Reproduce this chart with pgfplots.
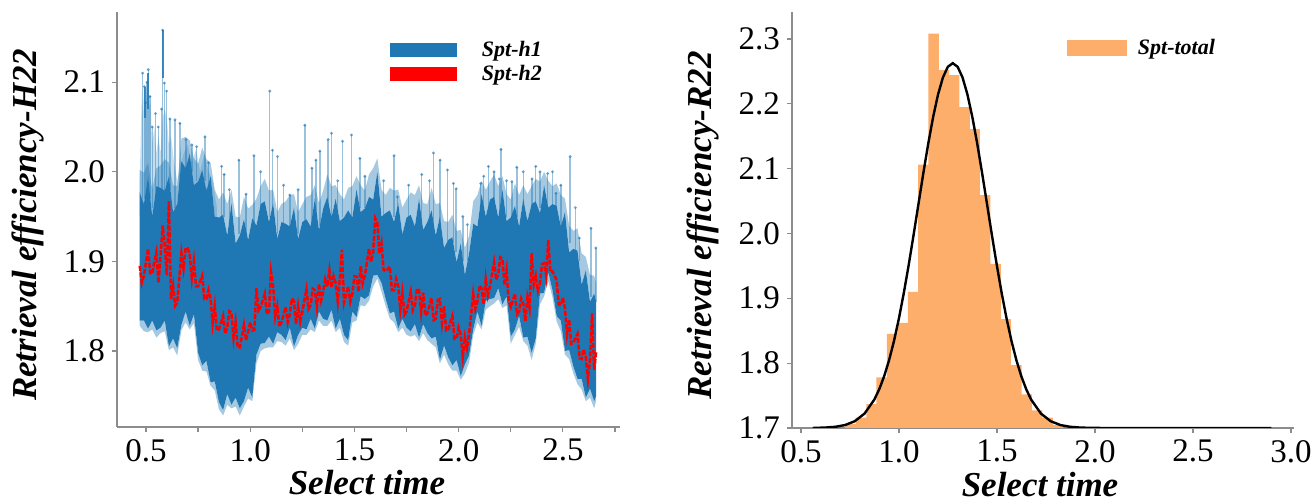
\documentclass[border=0pt]{standalone}
\usepackage{pgfplots}
\pgfplotsset{compat=1.18}
\usepackage{pgfplotstable}
\usepgfplotslibrary{fillbetween}
\usepackage{fontspec}
\setmainfont{Liberation Serif}
\definecolor{c1}{HTML}{1F77B4}
\definecolor{hor}{HTML}{FDAE6B}
\definecolor{spine}{HTML}{8C8C8C}

\pgfplotstableread{
x lo hi ll hh
0.47 1.834 1.977 1.828 2.002
0.49 1.834 1.964 1.822 1.999
0.51 1.825 1.995 1.821 2.010
0.53 1.834 1.950 1.824 1.980
0.55 1.823 1.984 1.815 2.004
0.57 1.826 1.982 1.820 2.007
0.59 1.834 1.979 1.822 2.014
0.61 1.805 1.995 1.801 2.010
0.63 1.814 1.955 1.804 1.985
0.65 1.803 1.964 1.795 1.984
0.67 1.829 2.012 1.823 2.037
0.69 1.844 2.004 1.832 2.039
0.71 1.828 2.020 1.824 2.035
0.73 1.841 1.985 1.831 2.015
0.75 1.798 1.989 1.790 2.009
0.77 1.784 2.002 1.778 2.027
0.79 1.789 1.979 1.777 2.014
0.81 1.765 1.995 1.761 2.010
0.83 1.766 1.950 1.756 1.980
0.85 1.743 1.949 1.735 1.969
0.87 1.734 1.952 1.728 1.977
0.89 1.752 1.929 1.740 1.964
0.91 1.740 1.965 1.736 1.980
0.93 1.748 1.920 1.738 1.950
0.95 1.736 1.929 1.728 1.949
0.97 1.744 1.947 1.738 1.972
0.99 1.759 1.924 1.747 1.959
1.01 1.748 1.948 1.744 1.963
1.03 1.796 1.940 1.786 1.970
1.05 1.808 1.964 1.800 1.984
1.07 1.809 1.967 1.803 1.992
1.09 1.816 1.944 1.804 1.979
1.11 1.808 1.965 1.804 1.980
1.13 1.821 1.925 1.811 1.955
1.15 1.818 1.944 1.810 1.964
1.17 1.812 1.942 1.806 1.967
1.19 1.826 1.939 1.814 1.974
1.21 1.805 1.960 1.801 1.975
1.23 1.818 1.925 1.808 1.955
1.25 1.826 1.944 1.818 1.964
1.27 1.824 1.947 1.818 1.972
1.29 1.836 1.939 1.824 1.974
1.31 1.825 1.970 1.821 1.985
1.33 1.844 1.935 1.834 1.965
1.35 1.836 1.959 1.828 1.979
1.37 1.834 1.972 1.828 1.997
1.39 1.846 1.949 1.834 1.984
1.41 1.825 1.970 1.821 1.985
1.43 1.836 1.945 1.826 1.975
1.45 1.818 1.949 1.810 1.969
1.47 1.812 1.957 1.806 1.982
1.49 1.844 1.949 1.832 1.984
1.51 1.838 1.980 1.834 1.995
1.53 1.861 1.955 1.851 1.985
1.55 1.858 1.959 1.850 1.979
1.57 1.862 1.972 1.856 1.997
1.59 1.884 1.969 1.872 2.004
1.61 1.885 2.000 1.881 2.015
1.63 1.876 1.950 1.866 1.980
1.65 1.858 1.954 1.850 1.974
1.67 1.842 1.957 1.836 1.982
1.69 1.844 1.944 1.832 1.979
1.71 1.825 1.965 1.821 1.980
1.73 1.836 1.930 1.826 1.960
1.75 1.826 1.949 1.818 1.969
1.77 1.822 1.952 1.816 1.977
1.79 1.830 1.939 1.818 1.974
1.81 1.815 1.970 1.811 1.985
1.83 1.830 1.935 1.820 1.965
1.85 1.820 1.944 1.812 1.964
1.87 1.814 1.957 1.808 1.982
1.89 1.816 1.929 1.804 1.964
1.91 1.790 1.950 1.786 1.965
1.93 1.806 1.915 1.796 1.945
1.95 1.793 1.924 1.785 1.944
1.97 1.784 1.927 1.778 1.952
1.99 1.790 1.899 1.778 1.934
2.01 1.772 1.920 1.768 1.935
2.03 1.785 1.885 1.775 1.915
2.05 1.795 1.909 1.787 1.929
2.07 1.824 1.942 1.818 1.967
2.09 1.844 1.939 1.832 1.974
2.11 1.828 1.975 1.824 1.990
2.13 1.856 1.950 1.846 1.980
2.15 1.858 1.969 1.850 1.989
2.17 1.859 1.972 1.853 1.997
2.19 1.870 1.949 1.858 1.984
2.21 1.852 1.980 1.848 1.995
2.23 1.861 1.945 1.851 1.975
2.25 1.816 1.949 1.808 1.969
2.27 1.824 1.962 1.818 1.987
2.29 1.839 1.939 1.827 1.974
2.31 1.815 1.970 1.811 1.985
2.33 1.816 1.945 1.806 1.975
2.35 1.798 1.964 1.790 1.984
2.37 1.814 1.967 1.808 1.992
2.39 1.864 1.954 1.852 1.989
2.41 1.865 1.985 1.861 2.000
2.43 1.888 1.960 1.878 1.990
2.45 1.868 1.964 1.860 1.984
2.47 1.839 1.962 1.833 1.987
2.49 1.834 1.939 1.822 1.974
2.51 1.800 1.955 1.796 1.970
2.53 1.801 1.910 1.791 1.940
2.55 1.783 1.914 1.775 1.934
2.57 1.769 1.912 1.763 1.937
2.59 1.769 1.874 1.757 1.909
2.61 1.748 1.890 1.744 1.905
2.63 1.758 1.855 1.748 1.885
2.65 1.744 1.864 1.736 1.884
2.66 1.750 1.855 1.745 1.875
}\band

\pgfplotstableread{
x b p
0.484 1.970 2.110
0.492 1.970 2.095
0.498 1.970 2.077
0.505 1.975 2.100
0.511 1.980 2.114
0.519 1.970 2.084
0.530 1.960 2.050
0.546 1.970 2.065
0.559 1.980 2.050
0.575 1.980 2.070
0.580 1.980 2.158
0.588 1.980 2.099
0.599 1.980 2.090
0.615 1.980 2.059
0.639 1.960 2.058
0.663 1.980 2.054
0.692 2.000 2.036
0.720 2.000 2.030
0.743 1.990 2.028
0.783 1.990 2.039
0.800 1.980 2.010
0.863 1.950 2.006
0.875 1.950 1.997
0.900 1.940 1.980
0.946 1.930 2.013
0.980 1.930 1.975
1.018 1.940 2.018
1.050 1.950 2.000
1.094 1.950 2.090
1.107 1.950 2.024
1.131 1.930 2.017
1.160 1.940 1.985
1.190 1.940 1.974
1.230 1.930 1.980
1.262 1.940 2.052
1.296 1.940 2.004
1.315 1.950 2.013
1.334 1.940 2.023
1.374 1.960 2.036
1.390 1.950 2.043
1.420 1.950 1.990
1.443 1.950 2.034
1.486 1.950 2.041
1.526 1.960 2.015
1.550 1.960 1.995
1.640 1.950 1.990
1.690 1.950 2.018
1.706 1.950 1.972
1.760 1.945 1.985
1.823 1.940 1.997
1.860 1.940 1.990
1.879 1.940 2.021
1.911 1.930 2.013
1.946 1.920 2.002
1.975 1.920 1.987
1.988 1.910 1.981
2.020 1.900 1.950
2.042 1.900 1.941
2.106 1.950 1.987
2.120 1.950 1.995
2.143 1.960 2.006
2.170 1.960 2.000
2.195 1.950 1.992
2.203 1.960 2.025
2.230 1.950 1.990
2.255 1.950 1.989
2.279 1.950 2.005
2.310 1.950 2.000
2.352 1.960 1.992
2.370 1.960 2.006
2.390 1.960 2.000
2.427 1.960 1.998
2.450 1.960 2.000
2.467 1.950 1.976
2.490 1.940 1.985
2.535 1.920 2.017
2.560 1.910 1.960
2.579 1.900 1.926
2.635 1.860 1.937
2.658 1.855 1.915
}\spikes

\pgfplotsset{
  myax/.style={
    scale only axis,
    axis x line=bottom, axis y line=left,
    axis line style={-, spine, line width=0.6pt},
    tick style={spine, line width=0.6pt},
    tick align=outside,
    major tick length=2.5pt, minor tick length=2.5pt,
    tick label style={font=\fontsize{16.5}{18}\selectfont},
    /pgf/number format/assume math mode=true,
    /pgf/number format/.cd, fixed, fixed zerofill, precision=1, /pgfplots/.cd,
    label style={font=\fontsize{17.5}{20}\selectfont\bfseries\itshape},
    legend style={draw=none, fill=none, font=\fontsize{11}{13}\selectfont\bfseries\itshape,
      inner sep=0pt, outer sep=0pt, row sep=2pt, column sep=0pt, nodes={inner ysep=0.5pt}},
    legend cell align=left,
  }
}

\begin{document}
\begin{tikzpicture}

% ---------------- left panel ----------------
\begin{axis}[myax,
  at={(58.5pt,37.5pt)}, anchor=south west,
  width=251.5pt, height=207.5pt,
  xmin=0.361, xmax=2.774, ymin=1.7152, ymax=2.1783,
  xtick={0.5,1,1.5,2,2.5},
  minor xtick={0.75,1.25,1.75,2.25,2.75},
  ytick={1.8,1.9,2.0,2.1},
  xlabel={Select time},
  ylabel={Retrieval efficiency-H22},
  xlabel style={at={(axis description cs:0.497,-0.135)}, anchor=center},
  ylabel style={at={(axis description cs:-0.177,0.487)}, anchor=center},
  legend style={at={(axis description cs:0.543,0.933)}, anchor=north west},
]
\addplot[fill=c1, fill opacity=0.25, draw=none, forget plot] coordinates {
 (0.47,1.96) (0.47,1.99) (0.475,2.04) (0.48,2.09) (0.486,2.06) (0.49,2.10) (0.495,2.05)
 (0.50,2.08) (0.506,2.10) (0.511,2.11) (0.516,2.07) (0.522,2.08) (0.53,2.03)
 (0.54,2.05) (0.55,2.02) (0.56,2.04) (0.57,2.02) (0.58,2.06) (0.59,2.07)
 (0.60,2.06) (0.61,2.03) (0.62,2.04) (0.635,2.01) (0.65,1.99) (0.68,2.02)
 (0.70,2.03) (0.72,2.01) (0.74,2.025) (0.76,2.00) (0.78,2.02) (0.80,2.00)
 (0.82,1.99) (0.84,1.96) (0.84,1.95) (0.47,1.95)} -- cycle;
\addplot[name path=ll, draw=none, forget plot] table[x=x, y=ll] {\band};
\addplot[name path=lo, draw=none, forget plot] table[x=x, y=lo] {\band};
\addplot[name path=hi, draw=none, forget plot] table[x=x, y=hi] {\band};
\addplot[name path=hh, draw=none, forget plot] table[x=x, y=hh] {\band};
\addplot[fill=c1, fill opacity=0.4, draw=none, forget plot] fill between[of=hi and hh];
\addplot[fill=c1, fill opacity=0.4, draw=none, forget plot] fill between[of=ll and lo];
\addplot[fill=c1, draw=none, forget plot] fill between[of=lo and hi];
\addplot[draw=none, forget plot,
  error bars/.cd, y dir=plus, y explicit,
  error bar style={draw=c1, draw opacity=0.45, line width=0.7pt}, error mark=none]
  table[x=x, y=b, y error expr=\thisrow{p}-\thisrow{b}] {\spikes};
\addplot[only marks, mark=*, mark size=0.55pt, c1, opacity=0.5, forget plot]
  table[x=x, y=p] {\spikes};
\addplot[draw=none, forget plot,
  error bars/.cd, y dir=plus, y explicit,
  error bar style={draw=c1, draw opacity=0.85, line width=1.1pt}, error mark=none]
  coordinates {(0.580,2.105) +- (0,0.053) (0.511,2.07) +- (0,0.04) (0.497,2.06) +- (0,0.035)};
\addplot[red, line width=1.25pt, dash pattern=on 2.5pt off 0.8pt, forget plot] coordinates {
(0.47,1.895) (0.48,1.876) (0.49,1.884) (0.50,1.899) (0.51,1.914) (0.52,1.887)
(0.53,1.886) (0.54,1.8995) (0.55,1.910) (0.56,1.876) (0.57,1.905) (0.58,1.940)
(0.59,1.919) (0.60,1.8845) (0.61,1.967) (0.62,1.858) (0.63,1.873) (0.64,1.8505)
(0.65,1.854) (0.66,1.8815) (0.67,1.909) (0.68,1.892) (0.69,1.915) (0.70,1.9145)
(0.71,1.908) (0.72,1.881) (0.73,1.900) (0.74,1.872) (0.75,1.872) (0.76,1.878)
(0.77,1.884) (0.78,1.858) (0.79,1.858) (0.80,1.868) (0.81,1.858) (0.82,1.831)
(0.83,1.850) (0.84,1.823) (0.85,1.824) (0.86,1.8315) (0.87,1.839) (0.88,1.8195)
(0.89,1.826) (0.90,1.8445) (0.91,1.843) (0.92,1.8145) (0.93,1.832) (0.94,1.804)
(0.95,1.804) (0.96,1.8165) (0.97,1.829) (0.98,1.812) (0.99,1.821) (1.00,1.832)
(1.01,1.823) (1.02,1.8235) (1.03,1.870) (1.04,1.8455) (1.05,1.849) (1.06,1.8565)
(1.07,1.864) (1.08,1.841) (1.09,1.844) (1.10,1.888) (1.11,1.873) (1.12,1.8385)
(1.13,1.850) (1.14,1.827) (1.15,1.832) (1.16,1.8405) (1.17,1.849) (1.18,1.832)
(1.19,1.841) (1.20,1.8585) (1.21,1.856) (1.22,1.830) (1.23,1.850) (1.24,1.833)
(1.25,1.844) (1.26,1.8565) (1.27,1.869) (1.28,1.847) (1.29,1.851) (1.30,1.8695)
(1.31,1.868) (1.32,1.8485) (1.33,1.875) (1.34,1.8565) (1.35,1.866) (1.36,1.880)
(1.37,1.872) (1.38,1.890) (1.39,1.871) (1.40,1.8835) (1.41,1.876) (1.42,1.855)
(1.43,1.880) (1.44,1.913) (1.45,1.854) (1.46,1.863) (1.47,1.872) (1.48,1.855)
(1.49,1.864) (1.50,1.8835) (1.51,1.883) (1.52,1.866) (1.53,1.895) (1.54,1.8755)
(1.55,1.884) (1.56,1.899) (1.57,1.914) (1.58,1.8995) (1.59,1.911) (1.60,1.948)
(1.61,1.943) (1.62,1.9085) (1.63,1.920) (1.64,1.8905) (1.65,1.889) (1.66,1.8915)
(1.67,1.894) (1.68,1.868) (1.69,1.868) (1.70,1.8805) (1.71,1.873) (1.72,1.846)
(1.73,1.865) (1.74,1.8405) (1.75,1.844) (1.76,1.855) (1.77,1.866) (1.78,1.8455)
(1.79,1.851) (1.80,1.8695) (1.81,1.868) (1.82,1.8435) (1.83,1.865) (1.84,1.8395)
(1.85,1.842) (1.86,1.8505) (1.87,1.859) (1.88,1.8345) (1.89,1.836) (1.90,1.857)
(1.91,1.858) (1.92,1.831) (1.93,1.850) (1.94,1.823) (1.95,1.824) (1.96,1.8315)
(1.97,1.839) (1.98,1.8135) (1.99,1.814) (2.00,1.826) (2.01,1.818) (2.02,1.7935)
(2.03,1.815) (2.04,1.803) (2.05,1.819) (2.06,1.8415) (2.07,1.864) (2.08,1.847)
(2.09,1.856) (2.10,1.873) (2.11,1.870) (2.12,1.852) (2.13,1.880) (2.14,1.862)
(2.15,1.872) (2.16,1.8855) (2.17,1.899) (2.18,1.8795) (2.19,1.886) (2.20,1.9045)
(2.21,1.903) (2.22,1.8735) (2.23,1.890) (2.24,1.8555) (2.25,1.849) (2.26,1.8565)
(2.27,1.864) (2.28,1.841) (2.29,1.844) (2.30,1.8585) (2.31,1.853) (2.32,1.8335)
(2.33,1.860) (2.34,1.848) (2.35,1.909) (2.36,1.874) (2.37,1.884) (2.38,1.867)
(2.39,1.876) (2.40,1.897) (2.41,1.898) (2.42,1.8835) (2.43,1.924) (2.44,1.888)
(2.45,1.889) (2.46,1.884) (2.47,1.879) (2.48,1.852) (2.49,1.851) (2.50,1.8595)
(2.51,1.848) (2.52,1.8185) (2.53,1.835) (2.54,1.808) (2.55,1.809) (2.56,1.814)
(2.57,1.819) (2.58,1.792) (2.59,1.791) (2.60,1.802) (2.61,1.793) (2.62,1.7685)
(2.63,1.790) (2.64,1.842) (2.65,1.779) (2.66,1.800)};
\addlegendimage{legend image code/.code={\fill[c1] (0pt,-3.2pt) rectangle (33pt,3.2pt); \path (43.5pt,0pt);}}
\addlegendentry{Spt-h1}
\addlegendimage{legend image code/.code={\fill[red] (0pt,-3.2pt) rectangle (33pt,3.2pt); \path (43.5pt,0pt);}}
\addlegendentry{Spt-h2}
\end{axis}

% ---------------- right panel ----------------
\begin{axis}[myax,
  at={(396pt,37pt)}, anchor=south west,
  width=251pt, height=208pt,
  xmin=0.454, xmax=3.015, ymin=1.7, ymax=2.3415,
  xtick={0.5,1,1.5,2,2.5,3},
  ytick={1.7,1.8,1.9,2.0,2.1,2.2,2.3},
  xlabel={Select time},
  ylabel={Retrieval efficiency-R22},
  xlabel style={at={(axis description cs:0.494,-0.135)}, anchor=center},
  ylabel style={at={(axis description cs:-0.177,0.487)}, anchor=center},
  legend style={at={(axis description cs:0.548,0.938)}, anchor=north west},
]
\addplot[ybar interval, fill=hor, draw=none, forget plot] coordinates {
(0.724,1.706) (0.778,1.716) (0.833,1.737) (0.885,1.778) (0.938,1.845)
(0.992,1.862) (1.045,1.910) (1.098,2.106) (1.150,2.308) (1.203,2.252)
(1.256,2.244) (1.308,2.195) (1.361,2.161) (1.413,2.059) (1.466,1.953)
(1.519,1.868) (1.571,1.797) (1.626,1.752) (1.678,1.727) (1.731,1.716)
(1.785,1.705) (1.838,1.705)};
\addplot[black, line width=1.2pt, forget plot] coordinates {
(0.56,1.7) (0.574,1.7002) (0.624,1.7007) (0.674,1.7018) (0.724,1.7045) (0.774,1.7104)
(0.824,1.7222) (0.874,1.7438) (0.899,1.7597) (0.924,1.7797) (0.949,1.8043)
(0.974,1.8338) (0.999,1.8683) (1.024,1.9075) (1.049,1.9508) (1.074,1.9972)
(1.099,2.0451) (1.124,2.0929) (1.149,2.1384) (1.174,2.1796) (1.199,2.2143)
(1.224,2.2406) (1.249,2.2570) (1.274,2.2626) (1.299,2.2570) (1.324,2.2406)
(1.349,2.2143) (1.374,2.1796) (1.399,2.1384) (1.424,2.0929) (1.449,2.0451)
(1.474,1.9972) (1.499,1.9508) (1.524,1.9075) (1.549,1.8683) (1.574,1.8338)
(1.599,1.8043) (1.624,1.7797) (1.649,1.7597) (1.674,1.7438) (1.724,1.7222)
(1.774,1.7104) (1.824,1.7045) (1.874,1.7018) (1.924,1.7007) (1.974,1.7002)
(2.05,1.7) (2.9,1.7)};
\addlegendimage{legend image code/.code={\fill[hor] (0pt,-3.7pt) rectangle (29.5pt,3.7pt); \path (33pt,0pt);}}
\addlegendentry{Spt-total}
\end{axis}
\pgfresetboundingbox
\useasboundingbox (0,0) rectangle (657pt,251pt);
\end{tikzpicture}
\end{document}
